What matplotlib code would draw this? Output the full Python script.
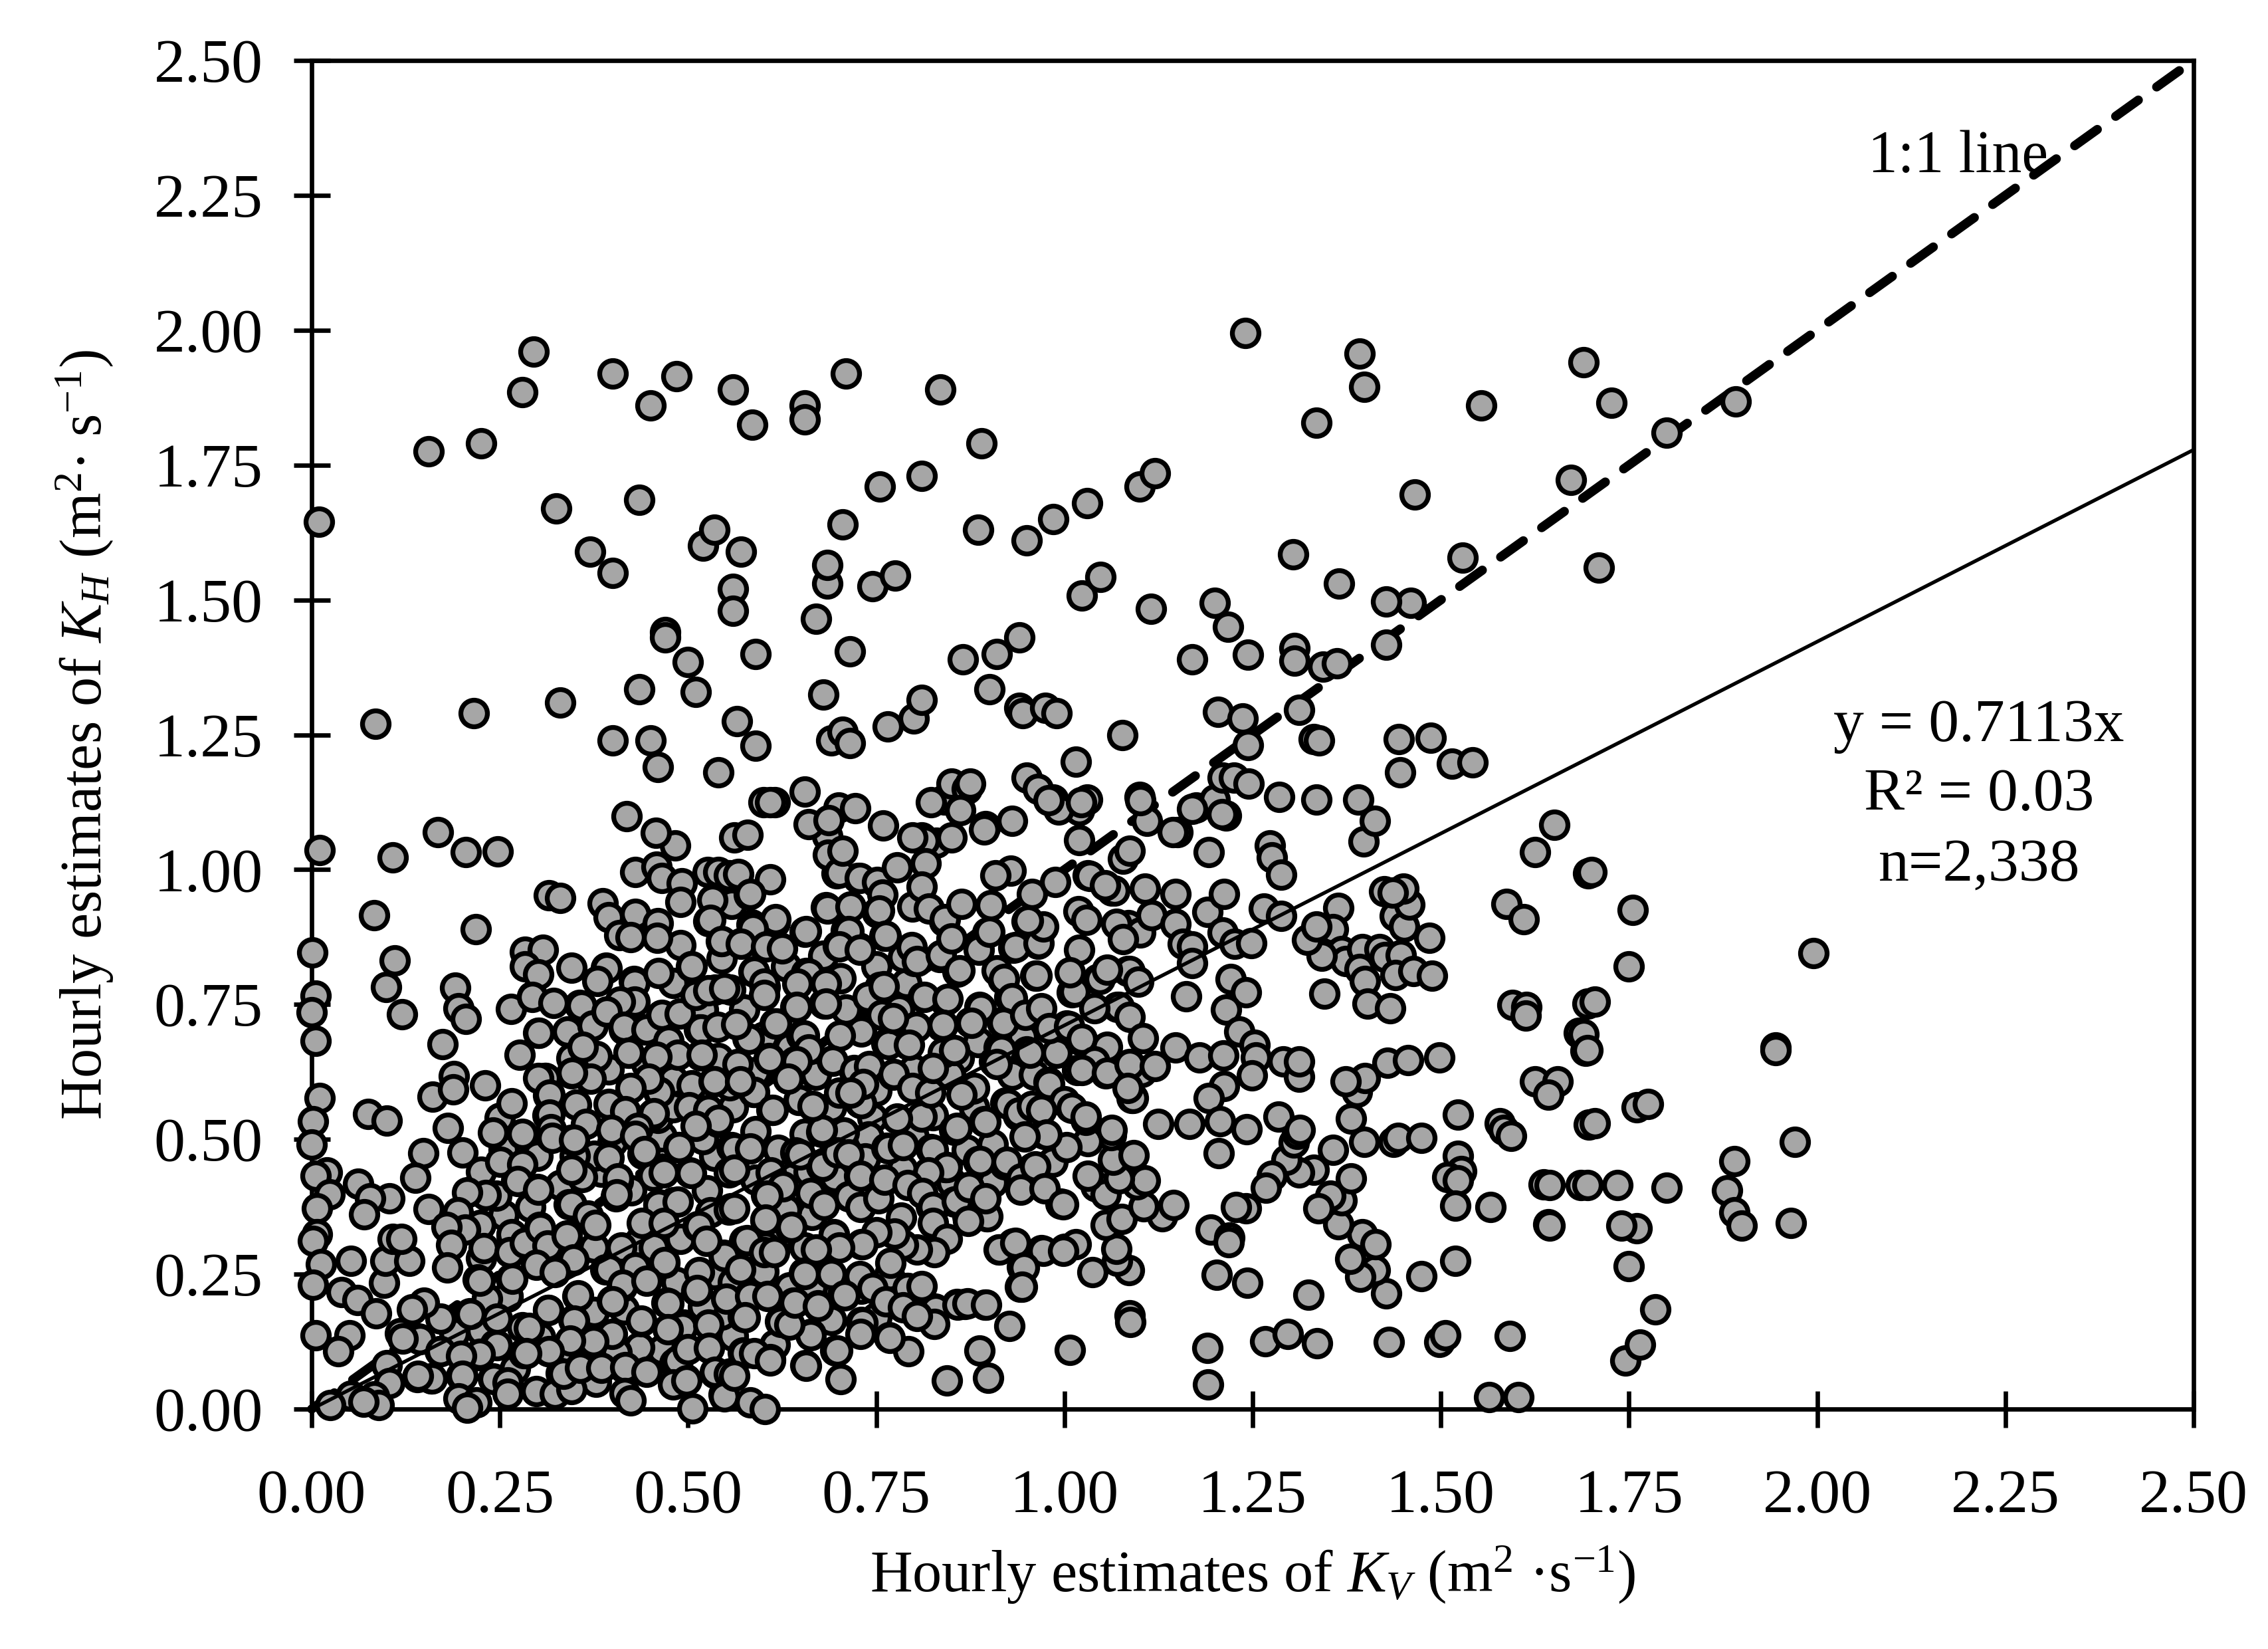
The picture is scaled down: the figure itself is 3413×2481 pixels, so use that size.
# Hourly estimates of KH against KV, points read off the picture by region
import matplotlib.pyplot as plt

plt.rcParams["font.family"] = ["Liberation Serif"]
plt.rcParams["mathtext.fontset"] = "custom"
plt.rcParams["mathtext.rm"] = "Liberation Serif"
plt.rcParams["mathtext.it"] = "Liberation Serif:italic"

slope = 0.7113
tick_values = [0.00, 0.25, 0.50, 0.75, 1.00, 1.25, 1.50, 1.75, 2.00, 2.25, 2.50]
tick_labels = ["0.00", "0.25", "0.50", "0.75", "1.00", "1.25", "1.50", "1.75", "2.00", "2.25", "2.50"]

# points with KH above about 1.2
upper_points = [
    (0.01,1.645),(0.155,1.775),(0.225,1.79),(0.085,1.27),(0.215,1.29),(0.295,1.96),(0.28,1.885),(0.40,1.92),
    (0.45,1.86),(0.485,1.915),(0.56,1.89),(0.585,1.825),(0.655,1.86),(0.655,1.835),(0.71,1.92),(0.835,1.89),
    (0.89,1.79),(0.325,1.67),(0.435,1.685),(0.37,1.59),(0.40,1.55),(0.52,1.60),(0.535,1.63),(0.57,1.59),
    (0.56,1.52),(0.56,1.48),(0.47,1.44),(0.47,1.43),(0.50,1.385),(0.51,1.33),(0.435,1.335),(0.33,1.31),
    (0.40,1.24),(0.45,1.24),(0.46,1.19),(0.54,1.18),(0.565,1.275),(0.59,1.40),(0.59,1.23),(0.67,1.465),
    (0.685,1.53),(0.685,1.565),(0.705,1.64),(0.755,1.71),(0.81,1.73),(0.745,1.525),(0.775,1.545),(0.715,1.405),
    (0.68,1.325),(0.69,1.24),(0.705,1.255),(0.715,1.235),(0.765,1.265),(0.80,1.28),(0.81,1.315),(0.865,1.39),
    (0.885,1.63),(0.95,1.61),(0.985,1.65),(1.03,1.68),(1.10,1.71),(1.12,1.735),(0.94,1.43),(0.91,1.40),
    (0.94,1.30),(0.945,1.29),(0.975,1.30),(0.99,1.29),(0.90,1.335),(1.023,1.508),(1.048,1.543),(1.115,1.483),
    (1.077,1.25),(1.20,1.495),(1.217,1.45),(1.17,1.39),(1.244,1.398),(1.304,1.585),(1.365,1.53),(1.24,1.995),
    (1.392,1.957),(1.398,1.895),(1.335,1.828),(1.465,1.696),(1.554,1.86),(1.69,1.94),(1.727,1.865),(1.80,1.81),
    (1.892,1.868),(1.673,1.723),(1.71,1.56),(1.529,1.578),(1.46,1.495),(1.427,1.497),(1.427,1.417),(1.306,1.411),
    (1.306,1.387),(1.344,1.376),(1.362,1.382),(1.204,1.293),(1.237,1.28),(1.244,1.231),(1.312,1.296),(1.331,1.242),
    (1.338,1.24),(1.444,1.242),(1.487,1.245),(1.446,1.18),(1.515,1.196),(1.542,1.199),
]

# band around KH = 1.05 to 1.2
middle_points = [
    (0.655,1.145),(0.60,1.125),(0.615,1.125),(0.70,1.115),(0.84,1.13),(0.85,1.16),(0.87,1.15),(0.875,1.16),
    (0.895,1.08),(0.93,1.09),(0.95,1.17),(0.965,1.15),(0.985,1.13),(1.015,1.20),(1.02,1.11),(1.03,1.13),
    (1.10,1.135),(1.11,1.09),(1.15,1.07),(1.175,1.115),(1.2,1.13),(1.21,1.17),(1.225,1.17),(1.245,1.16),
    (1.215,1.10),(1.285,1.135),(1.335,1.13),(1.39,1.13),(0.81,1.06),(0.83,1.05),(0.85,1.06),(0.862,1.110),
    (0.992,1.112),(1.022,1.125),(0.979,1.129),(1.101,1.129),(1.209,1.103),(1.170,1.113),(0.561,1.060),
    (0.579,1.064),(0.685,1.062),(0.814,1.054),(0.798,1.060),(0.418,1.099),(0.609,1.125),(0.660,1.084),
    (0.687,1.092),(0.722,1.114),(0.759,1.082),(0.823,1.125),(0.893,1.075),
]

# right part of the cloud
right_points = [
    (1.651,1.083),(1.625,1.032),(1.696,0.993),(1.587,0.937),(1.610,0.908),(1.595,0.749),(1.614,0.745),(1.613,0.730),
    (1.695,0.752),(1.683,0.697),(1.692,0.664),(1.625,0.608),(1.655,0.607),(1.643,0.583),(1.523,0.546),(1.578,0.530),
    (1.584,0.518),(1.593,0.506),(1.697,0.527),(1.523,0.469),(1.527,0.441),(1.509,0.430),(1.523,0.424),(1.519,0.377),
    (1.566,0.374),(1.637,0.417),(1.686,0.415),(1.643,0.342),(1.519,0.275),(1.474,0.247),(1.427,0.214),(1.412,0.257),
    (1.393,0.245),(1.380,0.279),(1.396,0.324),(1.413,0.305),(1.364,0.342),(1.368,0.387),(1.353,0.396),(1.337,0.372),
    (1.381,0.428),(1.331,0.443),(1.312,0.439),(1.295,0.462),(1.357,0.480),(1.305,0.494),(1.309,0.510),
    (1.276,0.432),(1.268,0.410),(1.241,0.372),(1.228,0.374),(1.194,0.333),(1.219,0.318),(1.218,0.309),(1.202,0.249),
    (1.243,0.234),(1.324,0.212),(1.267,0.126),(1.297,0.139),(1.336,0.122),(1.431,0.125),(1.498,0.124),(1.506,0.137),
    (1.592,0.135),(1.564,0.022),(1.603,0.022),(1.190,0.113),(1.191,0.046),(1.007,0.110),(1.087,0.174),(1.088,0.162),
    (1.80,0.41),(1.88,0.405),(1.89,0.46),(1.89,0.365),(1.90,0.34),(1.945,0.67),(1.945,0.665),(1.995,0.845),
    (1.965,0.345),(1.97,0.495),(1.785,0.185),(1.76,0.335),(1.74,0.34),(1.75,0.265),(1.76,0.56),(1.775,0.565),
    (1.75,0.82),(1.755,0.925),(1.705,0.755),(1.70,0.995),(1.69,0.695),(1.695,0.665),(1.695,0.415),(1.735,0.415),
    (1.705,0.53),(1.745,0.09),(1.765,0.12),(1.645,0.415),(1.645,0.34),
    (1.398,0.495),(1.437,0.495),(1.443,0.503),(1.474,0.503),(1.381,0.538),(1.389,0.588),(1.399,0.614),(1.374,0.607),
    (1.429,0.642),(1.457,0.647),(1.498,0.652),(1.205,0.474),
    (1.364,0.929),(1.357,0.890),(1.368,0.849),(1.374,0.831),(1.396,0.853),(1.419,0.853),(1.392,0.816),(1.399,0.793),
    (1.403,0.752),(1.433,0.743),(1.426,0.838),(1.447,0.842),(1.440,0.805),(1.464,0.812),(1.488,0.803),(1.485,0.874),
    (1.439,0.914),(1.451,0.894),(1.458,0.935),(1.450,0.965),(1.425,0.960),(1.436,0.957),(1.397,1.052),(1.412,1.090),
    (1.345,0.770),(1.342,0.840),
    # KV 1.0 to 1.15 below KH 0.56
    (1.015,0.305),(1.037,0.254),(1.086,0.257),(1.070,0.275),(1.069,0.297),(1.055,0.341),(1.076,0.353),(1.130,0.357),
    (1.145,0.378),(1.105,0.376),(1.042,0.413),(1.055,0.398),(1.096,0.417),(1.107,0.424),(1.073,0.428),(1.065,0.462),
    (1.031,0.432),(1.092,0.471),(1.062,0.508),(1.031,0.497),(1.003,0.486),(1.028,0.536),(1.008,0.559),
]

# left edge, KV below about 0.115
left_points = [
    (0.011,1.036),(0.108,1.023),(0.083,0.916),(0.001,0.847),(0.110,0.832),(0.099,0.782),(0.005,0.767),(0.0,0.735),
    (0.005,0.682),(0.011,0.577),(0.002,0.534),(0.0,0.490),(0.075,0.547),(0.100,0.535),(0.062,0.418),(0.020,0.439),
    (0.005,0.432),(0.024,0.398),(0.103,0.391),(0.078,0.391),(0.007,0.372),(0.070,0.361),(0.007,0.324),(0.002,0.312),
    (0.012,0.268),(0.002,0.230),(0.052,0.275),(0.040,0.217),(0.061,0.202),(0.086,0.178),(0.096,0.234),(0.098,0.275),
    (0.108,0.316),(0.005,0.137),(0.050,0.137),(0.035,0.107),(0.100,0.081),(0.103,0.048),(0.083,0.024),(0.052,0.025),
    (0.025,0.007),(0.089,0.007),(0.069,0.014),(0.120,0.732),
]

# partly hidden points of the dense core, lying under the clearer ones
hidden_low = [
    (0.221,0.240),(0.233,0.204),(0.210,0.178),(0.260,0.208),(0.265,0.242),(0.142,0.130),(0.117,0.141),(0.170,0.107),
    (0.159,0.057),(0.140,0.059),(0.199,0.061),(0.244,0.119),(0.221,0.100),(0.241,0.057),(0.282,0.104),(0.314,0.107),
    (0.303,0.133),(0.280,0.152),(0.314,0.184),(0.348,0.165),(0.373,0.126),(0.384,0.077),(0.356,0.077),(0.331,0.066),
    (0.378,0.051),(0.415,0.077),(0.438,0.163),(0.399,0.201),(0.353,0.210),(0.412,0.227),(0.469,0.271),(0.511,0.219),
    (0.471,0.197),(0.494,0.156),(0.527,0.115),(0.498,0.111),(0.482,0.085),(0.497,0.055),(0.547,0.027),(0.558,0.066),
    (0.573,0.105),(0.536,0.066),(0.609,0.093),(0.656,0.081),(0.696,0.109),(0.663,0.139),(0.622,0.163),(0.573,0.171),
    (0.581,0.210),(0.640,0.197),(0.673,0.192),(0.730,0.161),(0.767,0.133),(0.791,0.224),(0.761,0.202),(0.730,0.223),
    (0.705,0.212),(0.688,0.253),(0.654,0.253),(0.603,0.301),(0.547,0.286),(0.575,0.312),(0.636,0.336),(0.603,0.350),
    (0.557,0.372),(0.513,0.339),(0.461,0.380),(0.502,0.439),(0.558,0.485),(0.560,0.443),(0.604,0.397),(0.677,0.450),
    (0.643,0.476),(0.713,0.394),(0.681,0.380),(0.694,0.324),(0.772,0.327),(0.823,0.376),(0.825,0.294),(0.730,0.305),
    (0.764,0.484),(0.823,0.482),(0.842,0.448),(0.758,0.420),(0.727,0.432),(0.487,0.485),(0.429,0.510),(0.358,0.432),
    (0.300,0.408),(0.272,0.424),(0.342,0.380),(0.366,0.357),(0.303,0.338),(0.266,0.321),(0.313,0.303),(0.348,0.276),
    (0.322,0.259),(0.280,0.304),(0.390,0.259),(0.407,0.423),(0.404,0.394),(0.440,0.473),(0.454,0.432),(0.480,0.383),
    (0.897,0.357),(0.854,0.385),(0.871,0.357),(0.826,0.372),(0.885,0.459),(0.841,0.449),(0.921,0.454),(0.958,0.447),
    (0.941,0.428),(0.971,0.413),(0.984,0.458),(0.995,0.381),(0.973,0.510),(0.941,0.227),(0.913,0.296),(0.931,0.307),
    (0.969,0.295),(1.0,0.297),(0.894,0.193),(0.868,0.195),(0.857,0.195),(0.828,0.186),(0.826,0.160),(0.944,0.264),
]

hidden_high = [
    (0.677,0.514),(0.728,0.568),(0.647,0.573),(0.611,0.555),(0.587,0.588),(0.539,0.532),(0.461,0.588),(0.415,0.553),
    (0.534,0.607),(0.452,0.544),(0.369,0.613),(0.377,0.652),(0.421,0.661),(0.473,0.682),(0.516,0.655),(0.515,0.704),
    (0.579,0.687),(0.607,0.650),(0.642,0.644),(0.691,0.646),(0.720,0.628),(0.772,0.620),(0.792,0.676),(0.802,0.709),
    (0.838,0.711),(0.764,0.678),(0.702,0.693),(0.651,0.693),(0.615,0.715),(0.681,0.752),(0.643,0.746),(0.556,0.778),
    (0.536,0.778),(0.587,0.811),(0.602,0.782),(0.657,0.808),(0.702,0.799),(0.755,0.782),(0.812,0.764),(0.801,0.831),
    (0.834,0.838),(0.786,0.838),(0.464,0.730),(0.428,0.756),(0.293,0.765),(0.356,0.749),(0.373,0.711),(0.301,0.698),
    (0.310,0.614),(0.345,0.622),(0.391,0.818),(0.428,0.793),(0.504,0.820),(0.415,0.704),(0.443,0.704),(0.317,0.506),
    (0.345,0.499),(0.313,0.544),(0.314,0.581),(0.726,0.985),(0.697,0.993),(0.750,0.976),(0.798,0.931),(0.840,0.905),
    (0.683,0.930),(0.751,0.920),(0.710,0.887),(0.761,0.877),(0.727,0.855),(0.699,0.859),(0.655,0.885),(0.615,0.902),
    (0.601,0.857),(0.570,0.864),(0.544,0.868),(0.527,0.905),(0.558,0.937),(0.581,0.954),(0.584,0.898),(0.565,0.991),
    (0.878,0.594),(0.845,0.622),(0.907,0.644),(0.950,0.663),(0.913,0.670),(0.875,0.717),(0.917,0.717),(0.837,0.710),
    (0.841,0.756),(0.887,0.745),(0.927,0.764),(0.918,0.797),(0.858,0.811),(0.898,0.884),(0.932,0.855),(0.965,0.863),
    (0.961,0.803),(0.854,0.518),(0.893,0.533),(0.938,0.544),(0.922,0.568),(0.979,0.606),(1.010,0.773),(1.044,0.797),
    (1.084,0.812),(1.070,0.745),(1.003,0.711),(1.020,0.685),(1.055,0.669),(1.037,0.644),(1.055,0.622),(1.017,0.629),
    (1.101,0.627),(1.089,0.577),(0.950,0.905),(0.969,0.890),(1.031,0.989),(1.063,0.961),
]

# gaps that stay closed in the picture, KV 0.2 to 1.0
hidden_fill = [
    (0.225,0.280),(0.255,0.360),(0.290,0.375),(0.245,0.395),(0.330,0.415),(0.385,0.440),(0.425,0.405),(0.435,0.310),
    (0.375,0.300),(0.455,0.300),(0.490,0.315),(0.485,0.235),(0.535,0.250),(0.560,0.235),(0.600,0.255),(0.635,0.225),
    (0.665,0.225),(0.615,0.120),(0.560,0.135),(0.465,0.110),(0.435,0.115),(0.405,0.105),(0.340,0.095),(0.270,0.075),
    (0.190,0.140),(0.225,0.145),(0.375,0.180),(0.415,0.185),(0.545,0.175),(0.520,0.190),(0.690,0.165),(0.750,0.170),
    (0.655,0.300),(0.625,0.325),(0.665,0.360),(0.630,0.370),(0.525,0.405),(0.530,0.365),(0.590,0.425),(0.640,0.430),
    (0.655,0.510),(0.620,0.480),(0.590,0.515),(0.535,0.470),(0.520,0.500),(0.465,0.505),(0.400,0.495),(0.375,0.470),
    (0.350,0.470),(0.460,0.540),(0.480,0.610),(0.505,0.600),(0.395,0.630),(0.345,0.650),(0.340,0.700),(0.445,0.640),
    (0.560,0.560),(0.555,0.600),(0.540,0.650),(0.590,0.625),(0.575,0.740),(0.600,0.690),(0.635,0.670),(0.670,0.620),
    (0.690,0.560),(0.745,0.540),(0.750,0.590),(0.800,0.630),(0.825,0.545),(0.800,0.505),(0.740,0.505),(0.870,0.480),
    (0.905,0.490),(0.905,0.420),(0.850,0.420),(0.785,0.445),(0.735,0.465),(0.695,0.430),(0.660,0.440),(0.880,0.560),
    (0.860,0.650),(0.885,0.680),(0.930,0.620),(0.945,0.690),(0.990,0.660),(0.960,0.620),(0.730,0.700),(0.710,0.740),
    (0.780,0.740),(0.790,0.790),(0.750,0.820),(0.680,0.840),(0.630,0.820),(0.545,0.835),(0.480,0.790),(0.490,0.860),
    (0.520,0.740),(0.480,0.560),(0.255,0.480),(0.225,0.440),(0.300,0.470),(0.280,0.510),(0.250,0.540),(0.230,0.600),
]

# cloud, KV 0.12 to 0.55, KH above 0.5
cloud_a = [
    (0.168,1.070),(0.205,1.032),(0.247,1.034),(0.315,0.953),(0.330,0.947),(0.218,0.890),(0.387,0.938),(0.395,0.912),
    (0.430,0.918),(0.460,0.901),(0.459,0.873),(0.409,0.878),(0.424,0.875),(0.283,0.848),(0.307,0.852),(0.283,0.821),
    (0.301,0.806),(0.345,0.818),(0.392,0.817),(0.380,0.794),(0.429,0.790),(0.461,0.808),(0.505,0.820),(0.429,0.755),
    (0.410,0.755),(0.191,0.781),(0.195,0.743),(0.205,0.723),(0.265,0.742),(0.293,0.764),(0.321,0.753),(0.358,0.748),
    (0.373,0.711),(0.392,0.737),(0.302,0.697),(0.276,0.657),(0.174,0.676),(0.189,0.617),(0.161,0.579),(0.188,0.593),
    (0.266,0.567),(0.181,0.521),(0.241,0.513),(0.430,0.996),(0.458,1.006),(0.465,0.984),(0.492,0.975),(0.483,1.045),
    (0.457,1.068),(0.490,0.940),(0.532,0.944),(0.530,0.907),(0.526,0.996),(0.540,0.996),(0.545,0.868),(0.554,0.990),
    (0.415,0.708),(0.445,0.704),(0.465,0.731),(0.489,0.733),(0.517,0.704),(0.539,0.708),(0.474,0.683),(0.486,0.657),
    (0.518,0.657),(0.421,0.661),(0.379,0.654),(0.360,0.671),(0.458,0.653),(0.535,0.607),(0.462,0.588),(0.448,0.612),
    (0.424,0.595),(0.371,0.612),(0.346,0.624),(0.311,0.614),(0.301,0.614),(0.316,0.583),(0.351,0.564),(0.316,0.546),
    (0.395,0.566),(0.417,0.552),(0.455,0.548),(0.501,0.560),(0.527,0.554),(0.540,0.536),(0.510,0.768),(0.527,0.776),
    (0.548,0.780),(0.365,0.529),(0.398,0.517),(0.433,0.521),(0.318,0.519),(0.510,0.525),
]

# cloud, KV 0.56 to 1.0, KH above 0.5
cloud_b = [
    (0.567,0.992),(0.609,0.982),(0.583,0.955),(0.686,1.027),(0.701,0.994),(0.705,1.035),(0.728,0.984),(0.751,0.977),
    (0.758,0.954),(0.754,0.924),(0.778,1.004),(0.816,1.012),(0.810,0.969),(0.820,0.928),(0.841,0.908),(0.863,0.936),
    (0.902,0.934),(0.929,0.998),(0.908,0.990),(0.957,0.955),(0.988,0.977),(0.685,0.928),(0.716,0.932),(0.713,0.886),
    (0.763,0.877),(0.701,0.858),(0.728,0.852),(0.657,0.886),(0.616,0.908),(0.586,0.891),(0.570,0.862),(0.604,0.857),
    (0.625,0.854),(0.588,0.811),(0.601,0.788),(0.601,0.768),(0.660,0.807),(0.645,0.788),(0.703,0.799),(0.683,0.788),
    (0.683,0.751),(0.644,0.746),(0.617,0.715),(0.581,0.686),(0.564,0.714),(0.654,0.692),(0.660,0.667),(0.608,0.649),
    (0.644,0.645),(0.692,0.646),(0.722,0.627),(0.741,0.636),(0.773,0.621),(0.848,0.620),(0.880,0.595),(0.925,0.566),
    (0.980,0.603),(0.588,0.588),(0.648,0.573),(0.613,0.554),(0.730,0.567),(0.810,0.542),(0.778,0.538),(0.895,0.532),
    (0.857,0.521),(0.707,0.513),(0.678,0.517),(0.566,0.640),(0.569,0.608),(0.633,0.612),(0.666,0.562),(0.701,0.587),
    (0.798,0.595),(0.822,0.587),(0.863,0.583),(0.939,0.550),(0.957,0.562),(1.0,0.571),(0.969,0.554),(0.797,0.856),
    (0.804,0.830),(0.836,0.842),(0.850,0.872),(0.861,0.813),(0.886,0.852),(0.900,0.885),(0.910,0.813),(0.920,0.797),
    (0.963,0.803),(0.935,0.856),(0.966,0.864),(0.972,0.895),(0.952,0.906),(0.814,0.764),(0.845,0.760),(0.930,0.762),
    (0.889,0.743),(0.877,0.716),(0.919,0.716),(0.948,0.731),(0.969,0.743),(0.839,0.712),(0.803,0.709),(0.766,0.677),
    (0.794,0.675),(0.739,0.764),(0.760,0.784),(0.757,0.731),(0.772,0.725),(0.839,0.661),(0.854,0.665),(0.916,0.665),
    (0.954,0.661),(0.910,0.640),(0.980,0.706),(0.825,0.632),(0.733,0.603),(0.716,0.587),
]

# cloud, KV 0.12 to 0.55, KH below 0.5
cloud_c = [
    (0.148,0.474),(0.138,0.429),(0.200,0.476),(0.251,0.458),(0.280,0.454),(0.274,0.423),(0.301,0.407),(0.231,0.397),
    (0.207,0.402),(0.155,0.371),(0.194,0.365),(0.224,0.341),(0.204,0.333),(0.179,0.337),(0.185,0.304),(0.229,0.298),
    (0.180,0.263),(0.130,0.275),(0.119,0.316),(0.266,0.324),(0.263,0.291),(0.283,0.308),(0.304,0.335),(0.313,0.303),
    (0.339,0.322),(0.348,0.277),(0.298,0.267),(0.323,0.254),(0.345,0.379),(0.367,0.358),(0.377,0.341),(0.359,0.430),
    (0.345,0.444),(0.320,0.503),(0.349,0.499),(0.395,0.466),(0.430,0.507),(0.442,0.478),(0.407,0.427),(0.405,0.398),
    (0.461,0.378),(0.486,0.384),(0.488,0.485),(0.504,0.437),(0.468,0.439),(0.515,0.339),(0.548,0.283),(0.554,0.370),
    (0.554,0.439),(0.524,0.312),(0.439,0.345),(0.468,0.345),(0.411,0.300),(0.395,0.259),(0.469,0.272),(0.515,0.254),
    (0.512,0.221),(0.430,0.263),(0.413,0.230),(0.445,0.238),(0.474,0.196),(0.354,0.211),(0.400,0.199),(0.314,0.183),
    (0.349,0.164),(0.438,0.164),(0.493,0.152),(0.527,0.156),(0.399,0.139),(0.374,0.126),(0.343,0.127),(0.304,0.133),
    (0.289,0.150),(0.315,0.107),(0.285,0.104),(0.246,0.118),(0.223,0.102),(0.260,0.209),(0.233,0.205),(0.223,0.238),
    (0.267,0.242),(0.211,0.176),(0.246,0.168),(0.171,0.168),(0.149,0.197),(0.133,0.185),(0.144,0.129),(0.121,0.131),
    (0.171,0.107),(0.199,0.098),(0.160,0.057),(0.141,0.061),(0.200,0.062),(0.242,0.056),(0.260,0.049),(0.195,0.020),
    (0.219,0.012),(0.207,0.002),(0.260,0.028),(0.298,0.033),(0.323,0.028),(0.345,0.037),(0.335,0.065),(0.357,0.076),
    (0.385,0.076),(0.417,0.078),(0.445,0.069),(0.416,0.030),(0.424,0.016),(0.486,0.090),(0.500,0.111),(0.528,0.113),
    (0.480,0.045),(0.498,0.053),(0.506,0.001),(0.536,0.069),(0.554,0.065),(0.548,0.024),(0.473,0.148),(0.551,0.205),
]

# cloud, KV 0.56 to 1.0, KH below 0.5
cloud_d = [
    (0.561,0.483),(0.561,0.444),(0.583,0.483),(0.649,0.472),(0.679,0.451),(0.698,0.476),(0.713,0.472),(0.610,0.439),
    (0.626,0.413),(0.606,0.395),(0.561,0.372),(0.663,0.400),(0.681,0.378),(0.714,0.394),(0.729,0.374),(0.753,0.390),
    (0.729,0.433),(0.761,0.425),(0.766,0.483),(0.786,0.489),(0.825,0.481),(0.844,0.448),(0.819,0.439),(0.792,0.415),
    (0.811,0.400),(0.825,0.374),(0.857,0.386),(0.873,0.411),(0.888,0.460),(0.923,0.458),(0.943,0.427),(0.961,0.450),
    (0.942,0.407),(0.974,0.409),(0.998,0.380),(0.976,0.509),(0.947,0.505),(0.898,0.357),(0.872,0.349),(0.895,0.390),
    (0.783,0.355),(0.825,0.345),(0.844,0.316),(0.827,0.291),(0.804,0.296),(0.786,0.304),(0.774,0.325),(0.750,0.328),
    (0.732,0.306),(0.694,0.323),(0.701,0.300),(0.670,0.296),(0.637,0.337),(0.603,0.351),(0.578,0.313),(0.601,0.291),
    (0.614,0.291),(0.569,0.259),(0.655,0.250),(0.690,0.250),(0.728,0.246),(0.767,0.248),(0.769,0.271),(0.745,0.224),
    (0.763,0.199),(0.792,0.224),(0.810,0.228),(0.786,0.189),(0.829,0.185),(0.827,0.158),(0.804,0.172),(0.858,0.193),
    (0.871,0.196),(0.896,0.193),(0.927,0.154),(0.887,0.109),(0.899,0.058),(0.844,0.053),(0.914,0.296),(0.935,0.308),
    (0.972,0.293),(0.946,0.263),(0.944,0.227),(0.998,0.293),(0.793,0.107),(0.768,0.132),(0.732,0.160),(0.729,0.139),
    (0.698,0.109),(0.703,0.056),(0.657,0.080),(0.663,0.137),(0.623,0.162),(0.635,0.156),(0.642,0.197),(0.673,0.191),
    (0.708,0.211),(0.583,0.210),(0.606,0.209),(0.576,0.170),(0.575,0.104),(0.588,0.104),(0.609,0.090),(0.583,0.012),
    (0.602,0.0),(0.561,0.061),
]

# cloud, KV 1.0 to 1.35, KH above 0.5
cloud_e = [
    (1.020,1.055),(1.078,1.020),(1.087,1.035),(1.144,1.070),(1.192,1.032),(1.273,1.045),(1.276,1.023),(1.288,0.991),
    (1.034,0.988),(1.066,0.961),(1.054,0.971),(1.107,0.965),(1.148,0.955),(1.190,0.922),(1.212,0.955),(1.265,0.928),
    (1.288,0.914),(1.210,0.883),(1.226,0.862),(1.248,0.864),(1.322,0.870),(1.335,0.895),(1.019,0.923),(1.029,0.907),
    (1.085,0.897),(1.069,0.899),(1.101,0.883),(1.078,0.871),(1.116,0.916),(1.148,0.899),(1.157,0.863),(1.170,0.858),
    (1.170,0.827),(1.221,0.797),(1.241,0.772),(1.215,0.741),(1.232,0.700),(1.253,0.675),(1.162,0.765),(1.020,0.852),
    (1.087,0.812),(1.047,0.797),(1.057,0.815),(1.098,0.792),(1.013,0.774),(1.007,0.809),(1.073,0.745),(1.087,0.727),
    (1.040,0.743),(1.006,0.710),(1.023,0.686),(1.104,0.688),(1.148,0.670),(1.179,0.652),(1.211,0.656),(1.254,0.652),
    (1.249,0.618),(1.291,0.644),(1.312,0.616),(1.312,0.644),(1.212,0.599),(1.192,0.577),(1.284,0.542),(1.313,0.517),
    (1.207,0.533),(1.166,0.529),(1.125,0.529),(1.242,0.519),(1.057,0.671),(1.040,0.644),(1.023,0.628),(1.057,0.623),
    (1.103,0.625),(1.087,0.640),(1.120,0.636),(1.091,0.577),(1.084,0.595),(1.010,0.558),(1.028,0.542),(1.063,0.517),
]

kv = []
kh = []
groups = [hidden_fill, hidden_low, hidden_high, middle_points, upper_points, right_points, left_points,
          cloud_a, cloud_b, cloud_c, cloud_d, cloud_e]
for group in groups:
    for a, b in group:
        kv.append(a)
        kh.append(b)

fig = plt.figure(figsize=(3413 / 300, 2481 / 300), dpi=300)
ax = fig.add_axes([469 / 3413, 361 / 2481, 2832 / 3413, 2029 / 2481])

# the 1:1 line lies under the points, the fitted line over them
ax.plot([0, 2.5], [0, 2.5], color="black", linewidth=3.3, dashes=(3.05, 2.47), dash_capstyle="round", zorder=2, clip_on=False)
ax.scatter(kv, kh, s=92, facecolor="#a6a6a6", edgecolor="black", linewidth=1.75, zorder=3, clip_on=False)
ax.plot([0, 2.5], [0, slope * 2.5], color="black", linewidth=1.3, zorder=4)

ax.set_xlim(0, 2.5)
ax.set_ylim(0, 2.5)
ax.set_xticks(tick_values)
ax.set_yticks(tick_values)
ax.set_xticklabels(tick_labels)
ax.set_yticklabels(tick_labels)
ax.tick_params(direction="inout", length=13.2, width=1.6, labelsize=22.5)
ax.tick_params(axis="x", pad=15)
ax.tick_params(axis="y", pad=11)
for side in ax.spines:
    ax.spines[side].set_linewidth(1.6)

ax.set_xlabel(r"Hourly estimates of $\mathit{K_V}$ (m$^{2}$ ·s$^{-1}$)", fontsize=21.2, labelpad=6.5)
ax.set_ylabel(r"Hourly estimates of $\mathit{K_H}$ (m$^{2}$· s$^{-1}$)", fontsize=21.2, labelpad=14)

ax.text(2.187, 2.32, "1:1 line", fontsize=21.5, ha="center", va="center", zorder=1)
ax.text(2.215, 1.266, "y = 0.7113x", fontsize=22, ha="center", va="center")
ax.text(2.215, 1.137, "R² = 0.03", fontsize=22, ha="center", va="center")
ax.text(2.215, 1.008, "n=2,338", fontsize=22, ha="center", va="center")

fig.savefig("out.png", dpi=300)
